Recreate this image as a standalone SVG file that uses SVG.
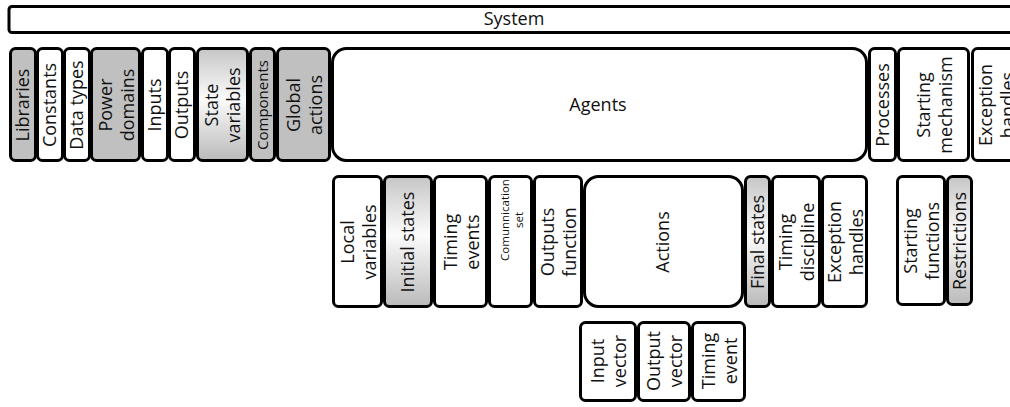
<svg xmlns="http://www.w3.org/2000/svg" width="1010" height="407" viewBox="0 0 1010 407">
<defs>
<linearGradient id="gr" x1="0" y1="0" x2="0" y2="1">
<stop offset="0" stop-color="#c6c6c6"/>
<stop offset="0.45" stop-color="#fbfbfb"/>
<stop offset="1" stop-color="#bababa"/>
</linearGradient>
</defs>
<style>
.b{stroke:#000;stroke-width:3;fill:#fff}
.g{fill:#c0c0c0}
.gr{fill:url(#gr)}
text{font-family:"Open Sans","Liberation Sans",sans-serif;font-size:18px;fill:#111;text-anchor:middle}
.s{font-size:15px}
.xs{font-size:11.5px}
</style>
<rect width="1010" height="407" fill="#fff"/>
<g id="system"><rect class="b" x="9" y="6.5" width="1030" height="26" rx="3" stroke-width="2.5"/><text x="514" y="25">System</text></g>

<g id="libraries"><rect class="b g" x="10.5" y="48.5" width="25" height="112" rx="5"/><text transform="translate(23,105) rotate(-90)" y="6">Libraries</text></g>
<g id="constants"><rect class="b" x="37.5" y="48.5" width="25" height="112" rx="5"/><text transform="translate(50,105) rotate(-90)" y="6">Constants</text></g>
<g id="datatypes"><rect class="b" x="64.5" y="48.5" width="25" height="112" rx="5"/><text transform="translate(77,105) rotate(-90)" y="6">Data types</text></g>
<g id="powerdomains"><rect class="b g" x="91.5" y="48.5" width="48" height="112" rx="5"/><text transform="translate(115.5,105) rotate(-90)"><tspan x="0" y="-4">Power</tspan><tspan x="0" y="18">domains</tspan></text></g>
<g id="inputs"><rect class="b" x="142.5" y="48.5" width="25" height="112" rx="5"/><text transform="translate(155,105) rotate(-90)" y="6">Inputs</text></g>
<g id="outputs"><rect class="b" x="169.5" y="48.5" width="25" height="112" rx="5"/><text transform="translate(182,105) rotate(-90)" y="6">Outputs</text></g>
<g id="statevariables"><rect class="b gr" x="197.5" y="48.5" width="50" height="112" rx="5"/><text transform="translate(222.5,105) rotate(-90)"><tspan x="0" y="-5">State</tspan><tspan x="0" y="17">variables</tspan></text></g>
<g id="components"><rect class="b g" x="250.5" y="48.5" width="24" height="112" rx="5"/><text class="s" transform="translate(262.5,105) rotate(-90)" y="5">Components</text></g>
<g id="globalactions"><rect class="b g" x="277.5" y="48.5" width="52" height="112" rx="5"/><text transform="translate(303.5,105) rotate(-90)"><tspan x="0" y="-4">Global</tspan><tspan x="0" y="18">actions</tspan></text></g>
<g id="agents"><rect class="b" x="332.5" y="48.5" width="534" height="112" rx="14"/><text x="598" y="111">Agents</text></g>
<g id="processes"><rect class="b" x="869.5" y="48.5" width="26" height="112" rx="5"/><text transform="translate(882.5,105) rotate(-90)" y="6">Processes</text></g>
<g id="startingmechanism"><rect class="b" x="898.5" y="48.5" width="70" height="112" rx="5"/><text transform="translate(933.5,105) rotate(-90)"><tspan x="0" y="-4">Starting</tspan><tspan x="0" y="18">mechanism</tspan></text></g>
<g id="exceptionhandles1"><rect class="b" x="972.5" y="48.5" width="60" height="112" rx="5"/><text transform="translate(996,105) rotate(-90)"><tspan x="0" y="-4">Exception</tspan><tspan x="0" y="18">handles</tspan></text></g>

<g id="localvariables"><rect class="b" x="333.5" y="176.5" width="48" height="130" rx="5"/><text transform="translate(357.5,242) rotate(-90)"><tspan x="0" y="-4">Local</tspan><tspan x="0" y="18">variables</tspan></text></g>
<g id="initialstates"><rect class="b gr" x="384.5" y="176.5" width="47" height="130" rx="5"/><text transform="translate(408,242) rotate(-90)" y="6">Initial states</text></g>
<g id="timingevents"><rect class="b" x="434.5" y="176.5" width="52" height="130" rx="5"/><text transform="translate(460.5,242) rotate(-90)"><tspan x="0" y="-4">Timing</tspan><tspan x="0" y="18">events</tspan></text></g>
<g id="communicationset"><rect class="b" x="489.5" y="176.5" width="42" height="130" rx="5"/><text class="xs" transform="translate(510.5,220) rotate(-90)"><tspan x="0" y="-2">Comunnication</tspan><tspan x="0" y="12">set</tspan></text></g>
<g id="outputsfunction"><rect class="b" x="534.5" y="176.5" width="47" height="130" rx="5"/><text transform="translate(558,242) rotate(-90)"><tspan x="0" y="-4">Outputs</tspan><tspan x="0" y="18">function</tspan></text></g>
<g id="actions"><rect class="b" x="584.5" y="176.5" width="158" height="130" rx="14"/><text transform="translate(663,242) rotate(-90)" y="6">Actions</text></g>
<g id="finalstates"><rect class="b gr" x="745.5" y="176.5" width="24" height="130" rx="5"/><text transform="translate(757.5,242) rotate(-90)" y="6">Final states</text></g>
<g id="timingdiscipline"><rect class="b" x="772.5" y="176.5" width="47" height="130" rx="5"/><text transform="translate(796,242) rotate(-90)"><tspan x="0" y="-4">Timing</tspan><tspan x="0" y="18">discipline</tspan></text></g>
<g id="exceptionhandles2"><rect class="b" x="822.5" y="176.5" width="44" height="130" rx="5"/><text transform="translate(844.5,242) rotate(-90)"><tspan x="0" y="-4">Exception</tspan><tspan x="0" y="18">handles</tspan></text></g>
<g id="startingfunctions"><rect class="b" x="897.5" y="176.5" width="47" height="128" rx="5"/><text transform="translate(921,241) rotate(-90)"><tspan x="0" y="-4">Starting</tspan><tspan x="0" y="18">functions</tspan></text></g>
<g id="restrictions"><rect class="b gr" x="947.5" y="176.5" width="24" height="128" rx="5"/><text transform="translate(959.5,241) rotate(-90)" y="6">Restrictions</text></g>

<g id="inputvector"><rect class="b" x="580.5" y="322.5" width="55" height="78" rx="5"/><text transform="translate(608,361) rotate(-90)"><tspan x="0" y="-4">Input</tspan><tspan x="0" y="18">vector</tspan></text></g>
<g id="outputvector"><rect class="b" x="638.5" y="322.5" width="51" height="78" rx="5"/><text transform="translate(664,361) rotate(-90)"><tspan x="0" y="-4">Output</tspan><tspan x="0" y="18">vector</tspan></text></g>
<g id="timingevent"><rect class="b" x="692.5" y="322.5" width="52" height="78" rx="5"/><text transform="translate(718.5,361) rotate(-90)"><tspan x="0" y="-4">Timing</tspan><tspan x="0" y="18">event</tspan></text></g>

<g id="connectors"/>
</svg>
